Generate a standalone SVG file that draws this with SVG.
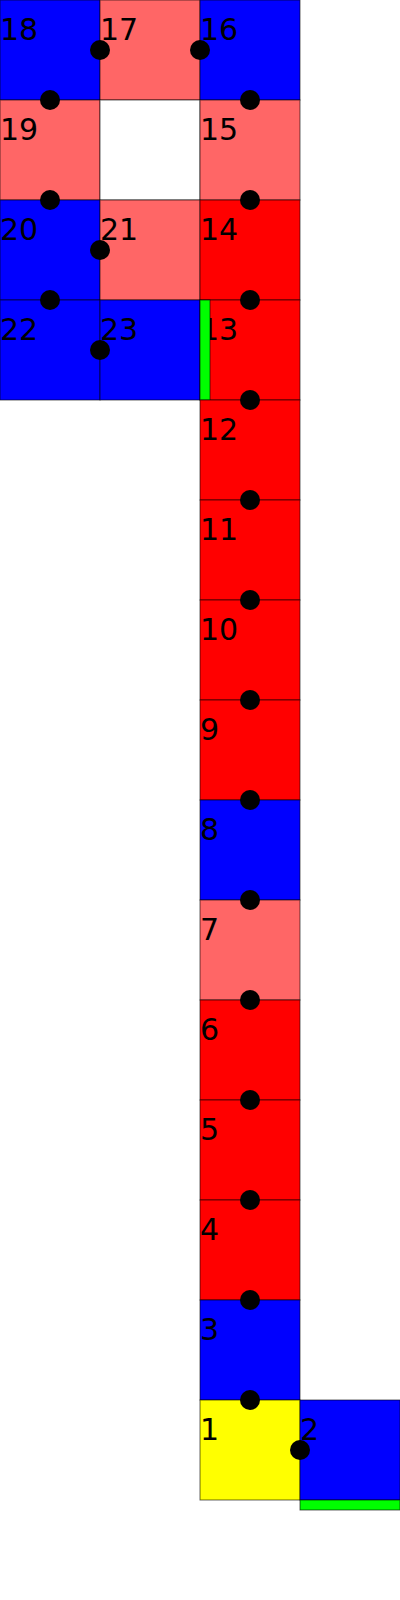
<svg xmlns="http://www.w3.org/2000/svg" width="400" height="1600" viewBox="0 0 400 1600">
<style>
rect.c{stroke:#000;stroke-opacity:0.6;stroke-width:1}
.b{fill:#0000ff}.s{fill:#ff6666}.r{fill:#ff0000}.y{fill:#ffff00}.w{fill:#ffffff}
.g{fill:#00ff00;stroke:#000;stroke-opacity:0.6;stroke-width:1}
text{font-family:"DejaVu Sans",sans-serif;font-size:30px;fill:#000}
circle{fill:#000}
</style>
<rect width="400" height="1600" fill="#fff"/>
<g id="n18"><rect class="c b" x="0" y="0" width="100" height="100"/><text x="0" y="40">18</text></g>
<g id="n17"><rect class="c s" x="100" y="0" width="100" height="100"/><text x="100" y="40">17</text></g>
<g id="n16"><rect class="c b" x="200" y="0" width="100" height="100"/><text x="200" y="40">16</text></g>
<g id="n19"><rect class="c s" x="0" y="100" width="100" height="100"/><text x="0" y="140">19</text></g>
<g id="empty"><rect class="c w" x="100" y="100" width="100" height="100"/></g>
<g id="n15"><rect class="c s" x="200" y="100" width="100" height="100"/><text x="200" y="140">15</text></g>
<g id="n20"><rect class="c b" x="0" y="200" width="100" height="100"/><text x="0" y="240">20</text></g>
<g id="n21"><rect class="c s" x="100" y="200" width="100" height="100"/><text x="100" y="240">21</text></g>
<g id="n14"><rect class="c r" x="200" y="200" width="100" height="100"/><text x="200" y="240">14</text></g>
<g id="n22"><rect class="c b" x="0" y="300" width="100" height="100"/><text x="0" y="340">22</text></g>
<g id="n23"><rect class="c b" x="100" y="300" width="100" height="100"/><text x="100" y="340">23</text></g>
<g id="n13"><rect class="c r" x="200" y="300" width="100" height="100"/><text x="200" y="340">13</text><rect class="g" x="200" y="300" width="10" height="100"/></g>
<g id="n12"><rect class="c r" x="200" y="400" width="100" height="100"/><text x="200" y="440">12</text></g>
<g id="n11"><rect class="c r" x="200" y="500" width="100" height="100"/><text x="200" y="540">11</text></g>
<g id="n10"><rect class="c r" x="200" y="600" width="100" height="100"/><text x="200" y="640">10</text></g>
<g id="n9"><rect class="c r" x="200" y="700" width="100" height="100"/><text x="200" y="740">9</text></g>
<g id="n8"><rect class="c b" x="200" y="800" width="100" height="100"/><text x="200" y="840">8</text></g>
<g id="n7"><rect class="c s" x="200" y="900" width="100" height="100"/><text x="200" y="940">7</text></g>
<g id="n6"><rect class="c r" x="200" y="1000" width="100" height="100"/><text x="200" y="1040">6</text></g>
<g id="n5"><rect class="c r" x="200" y="1100" width="100" height="100"/><text x="200" y="1140">5</text></g>
<g id="n4"><rect class="c r" x="200" y="1200" width="100" height="100"/><text x="200" y="1240">4</text></g>
<g id="n3"><rect class="c b" x="200" y="1300" width="100" height="100"/><text x="200" y="1340">3</text></g>
<g id="n1"><rect class="c y" x="200" y="1400" width="100" height="100"/><text x="200" y="1440">1</text></g>
<g id="n2"><rect class="c b" x="300" y="1400" width="100" height="100"/><text x="300" y="1440">2</text><rect class="g" x="300" y="1500" width="100" height="10"/></g>
<g id="connectors">
<circle cx="100" cy="50" r="10"/>
<circle cx="200" cy="50" r="10"/>
<circle cx="50" cy="100" r="10"/>
<circle cx="50" cy="200" r="10"/>
<circle cx="100" cy="250" r="10"/>
<circle cx="50" cy="300" r="10"/>
<circle cx="100" cy="350" r="10"/>
<circle cx="250" cy="100" r="10"/>
<circle cx="250" cy="200" r="10"/>
<circle cx="250" cy="300" r="10"/>
<circle cx="250" cy="400" r="10"/>
<circle cx="250" cy="500" r="10"/>
<circle cx="250" cy="600" r="10"/>
<circle cx="250" cy="700" r="10"/>
<circle cx="250" cy="800" r="10"/>
<circle cx="250" cy="900" r="10"/>
<circle cx="250" cy="1000" r="10"/>
<circle cx="250" cy="1100" r="10"/>
<circle cx="250" cy="1200" r="10"/>
<circle cx="250" cy="1300" r="10"/>
<circle cx="250" cy="1400" r="10"/>
<circle cx="300" cy="1450" r="10"/>
</g>
</svg>
